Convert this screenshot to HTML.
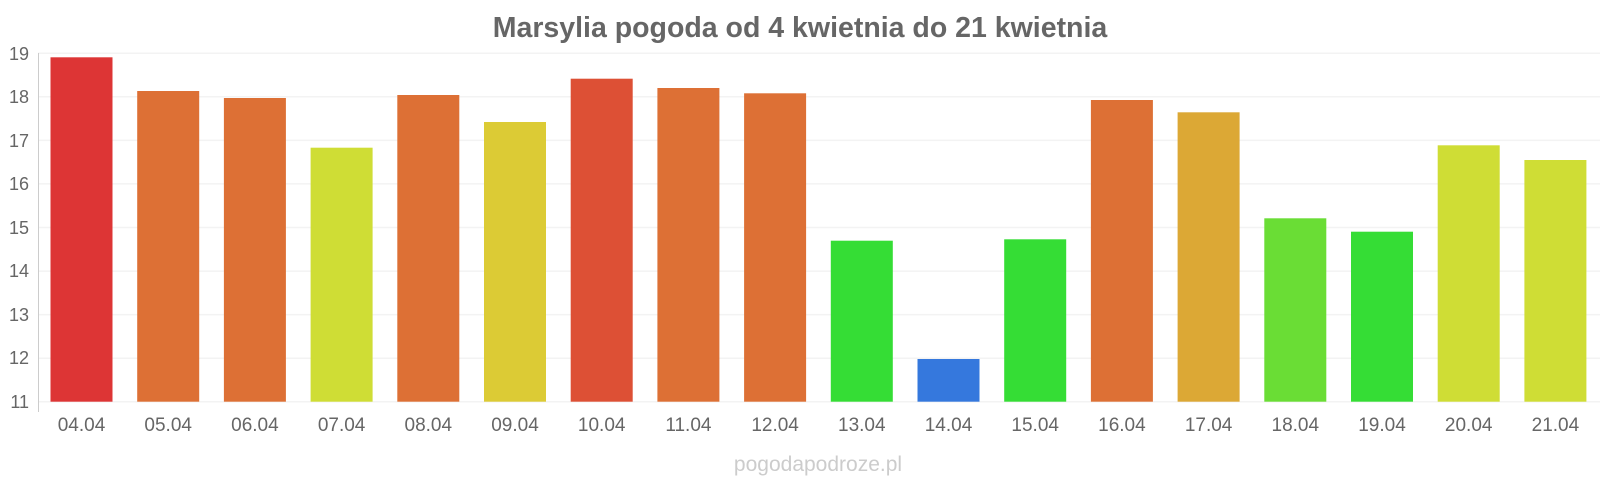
<!DOCTYPE html>
<html><head><meta charset="utf-8"><style>body{margin:0;background:#fff}svg{display:block}</style></head>
<body>
<svg width="1600" height="480" xmlns="http://www.w3.org/2000/svg" font-family="Liberation Sans, sans-serif">
<text x="800" y="37" text-anchor="middle" font-size="28.5" font-weight="bold" fill="#666">Marsylia pogoda od 4 kwietnia do 21 kwietnia</text>
<g stroke="#f3f3f3" stroke-width="1.5">
<line x1="38" x2="1600" y1="53.3" y2="53.3"/><line x1="38" x2="1600" y1="96.8" y2="96.8"/>
<line x1="38" x2="1600" y1="140.4" y2="140.4"/><line x1="38" x2="1600" y1="183.9" y2="183.9"/>
<line x1="38" x2="1600" y1="227.5" y2="227.5"/><line x1="38" x2="1600" y1="271.1" y2="271.1"/>
<line x1="38" x2="1600" y1="314.6" y2="314.6"/><line x1="38" x2="1600" y1="358.2" y2="358.2"/>
<line x1="38" x2="1600" y1="401.7" y2="401.7"/>
</g>
<line x1="38.5" x2="38.5" y1="53" y2="412" stroke="#ccc"/>
<g font-size="18" fill="#666" text-anchor="end">
<text x="29" y="60">19</text><text x="29" y="103">18</text><text x="29" y="147">17</text><text x="29" y="190">16</text>
<text x="29" y="234">15</text><text x="29" y="277">14</text><text x="29" y="321">13</text><text x="29" y="364">12</text><text x="29" y="408">11</text>
</g>
<g>
<rect x="50.5" y="57.3" width="62" height="344.4" fill="#dd3535"/>
<rect x="137.2" y="91" width="62" height="310.7" fill="#dd7035"/>
<rect x="223.9" y="98" width="62" height="303.7" fill="#dd7035"/>
<rect x="310.6" y="147.7" width="62" height="254" fill="#cfdd35"/>
<rect x="397.3" y="95" width="62" height="306.7" fill="#dd7035"/>
<rect x="484" y="122" width="62" height="279.7" fill="#dccb35"/>
<rect x="570.7" y="78.7" width="62" height="323" fill="#dd5035"/>
<rect x="657.4" y="88" width="62" height="313.7" fill="#dd7035"/>
<rect x="744.1" y="93.3" width="62" height="308.4" fill="#dd7035"/>
<rect x="830.8" y="240.7" width="62" height="161" fill="#35dd35"/>
<rect x="917.5" y="359" width="62" height="42.7" fill="#3578dd"/>
<rect x="1004.2" y="239.3" width="62" height="162.4" fill="#35dd35"/>
<rect x="1090.9" y="100" width="62" height="301.7" fill="#dd7035"/>
<rect x="1177.6" y="112.3" width="62" height="289.4" fill="#dca835"/>
<rect x="1264.3" y="218.3" width="62" height="183.4" fill="#6add35"/>
<rect x="1351" y="231.7" width="62" height="170" fill="#35dd35"/>
<rect x="1437.7" y="145.3" width="62" height="256.4" fill="#cfdd35"/>
<rect x="1524.4" y="160" width="62" height="241.7" fill="#cfdd35"/>
</g>
<g font-size="19" fill="#666" text-anchor="middle">
<text x="81.5" y="431">04.04</text><text x="168.2" y="431">05.04</text><text x="254.9" y="431">06.04</text>
<text x="341.6" y="431">07.04</text><text x="428.3" y="431">08.04</text><text x="515" y="431">09.04</text>
<text x="601.7" y="431">10.04</text><text x="688.4" y="431">11.04</text><text x="775.1" y="431">12.04</text>
<text x="861.8" y="431">13.04</text><text x="948.5" y="431">14.04</text><text x="1035.2" y="431">15.04</text>
<text x="1121.9" y="431">16.04</text><text x="1208.6" y="431">17.04</text><text x="1295.3" y="431">18.04</text>
<text x="1382" y="431">19.04</text><text x="1468.7" y="431">20.04</text><text x="1555.4" y="431">21.04</text>
</g>
<text x="818" y="471" text-anchor="middle" font-size="21" fill="#ccc">pogodapodroze.pl</text>
</svg>
</body></html>
